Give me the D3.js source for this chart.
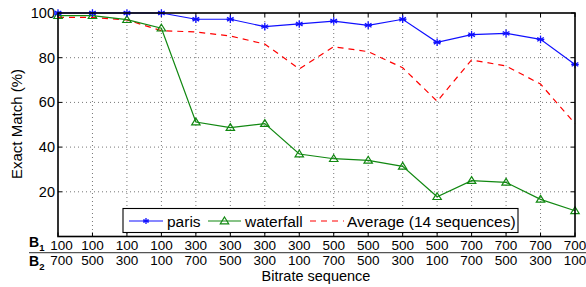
<!DOCTYPE html>
<html><head><meta charset="utf-8">
<script src="https://cdn.jsdelivr.net/npm/d3@7"></script>
<style>body{margin:0;background:#fff}svg{display:block;font-family:"Liberation Sans",Arial,sans-serif}</style>
</head><body><svg id="c" width="586" height="287"></svg>
<script>
const b1 = ["100","100","100","100","300","300","300","300","500","500","500","500","700","700","700","700"];
const b2 = ["700","500","300","100","700","500","300","100","700","500","300","100","700","500","300","100"];
const paris = [100,100,100,100,97.2,97.2,93.9,95.1,96.4,94.5,97.2,86.9,90.3,90.9,88.2,77.0];
const waterfall = [98.8,98.8,97.0,93.2,51.2,48.7,50.5,36.9,34.8,34.1,31.4,17.8,25.0,24.2,16.6,11.5];
const average = [98.0,98.0,96.9,92.1,91.5,89.7,86.1,75.0,84.9,82.7,75.5,60.5,79.0,76.3,68.2,50.5];
const yTicks = [20,40,60,80,100];

const svg = d3.select("#c");
const L=58,R=575,T=13,B=236.5;
const idx = d3.range(b1.length);
const x = d3.scaleLinear().domain([0,15]).range([L,R]);
const y = d3.scaleLinear().domain([0,100]).range([B,T]);

// grid
const g = svg.append("g");
g.selectAll(".vg").data(idx.slice(1,-1)).join("line")
 .attr("x1",d=>x(d)).attr("x2",d=>x(d)).attr("y1",T).attr("y2",B)
 .attr("stroke","#777").attr("stroke-width",1).attr("stroke-dasharray","1,3");
g.selectAll(".hg").data(yTicks.slice(0,-1)).join("line")
 .attr("x1",L).attr("x2",R).attr("y1",d=>y(d)).attr("y2",d=>y(d))
 .attr("stroke","#777").attr("stroke-width",1).attr("stroke-dasharray","1,3");

// ticks inward
const tk=4;
idx.forEach(i=>{
  svg.append("line").attr("x1",x(i)).attr("x2",x(i)).attr("y1",B).attr("y2",B-tk).attr("stroke","#000");
  svg.append("line").attr("x1",x(i)).attr("x2",x(i)).attr("y1",T).attr("y2",T+tk).attr("stroke","#000");
});
yTicks.forEach(v=>{
  svg.append("line").attr("x1",L).attr("x2",L+tk).attr("y1",y(v)).attr("y2",y(v)).attr("stroke","#000");
  svg.append("line").attr("x1",R).attr("x2",R-tk).attr("y1",y(v)).attr("y2",y(v)).attr("stroke","#000");
});

// y tick labels
svg.selectAll(".yl").data(yTicks).join("text")
 .attr("x",L-3).attr("y",d=>y(d)+5).attr("text-anchor","end")
 .attr("font-size","14.5px").text(d=>d);

// lines
const line = d3.line().x((d,i)=>x(i)).y(d=>y(d));
svg.append("path").datum(average).attr("d",line).attr("fill","none")
 .attr("stroke","#ff0000").attr("stroke-width",1.2).attr("stroke-dasharray","6,5");
svg.append("path").datum(waterfall).attr("d",line).attr("fill","none")
 .attr("stroke","#118811").attr("stroke-width",1.2);
svg.append("path").datum(paris).attr("d",line).attr("fill","none")
 .attr("stroke","#1010ff").attr("stroke-width",1.2);

function star(sel,cx,cy,r){
  [0,60,120].forEach(a=>{
    const rad=a*Math.PI/180;
    sel.append("line").attr("x1",cx-r*Math.sin(rad)).attr("y1",cy-r*Math.cos(rad))
      .attr("x2",cx+r*Math.sin(rad)).attr("y2",cy+r*Math.cos(rad))
      .attr("stroke","#1010ff").attr("stroke-width",1.3);
  });
  sel.append("line").attr("x1",cx-r).attr("x2",cx+r).attr("y1",cy).attr("y2",cy).attr("stroke","#1010ff").attr("stroke-width",1.3);
}
function tri(sel,cx,cy,s){
  sel.append("path").attr("d",`M${cx},${cy-s}L${cx+s*1.05},${cy+s*0.7}L${cx-s*1.05},${cy+s*0.7}Z`)
   .attr("fill","none").attr("stroke","#118811").attr("stroke-width",1.2);
}
waterfall.forEach((v,i)=>tri(svg,x(i),y(v),4));
paris.forEach((v,i)=>star(svg,x(i),y(v),3.8));

// frame
svg.append("rect").attr("x",L).attr("y",T).attr("width",R-L).attr("height",B-T)
 .attr("fill","none").attr("stroke","#000").attr("stroke-width",1.6);

// legend
const lg = svg.append("g");
lg.append("rect").attr("x",123).attr("y",208.5).attr("width",395).attr("height",24)
 .attr("fill","#fff").attr("stroke","#000").attr("stroke-width",1.1);
const ly=221;
lg.append("line").attr("x1",129).attr("x2",163).attr("y1",ly).attr("y2",ly).attr("stroke","#1010ff").attr("stroke-width",1.2);
star(lg,146,ly,3);
lg.append("text").attr("x",167).attr("y",ly+5.5).attr("font-size","15.5px").text("paris");
lg.append("line").attr("x1",208).attr("x2",241).attr("y1",ly).attr("y2",ly).attr("stroke","#118811").attr("stroke-width",1.2);
tri(lg,224.5,ly,4);
lg.append("text").attr("x",245).attr("y",ly+5.5).attr("font-size","15.5px").text("waterfall");
lg.append("line").attr("x1",310).attr("x2",344).attr("y1",ly).attr("y2",ly).attr("stroke","#ff0000").attr("stroke-width",1.2).attr("stroke-dasharray","6,5");
lg.append("text").attr("x",347).attr("y",ly+5.5).attr("font-size","15.5px").text("Average (14 sequences)");

// x labels (first column nudged right to clear the B labels)
const lx = i => x(i) + (i===0 ? 3.5 : 0);
svg.selectAll(".b1").data(b1).join("text").attr("x",(d,i)=>lx(i)).attr("y",250)
 .attr("text-anchor","middle").attr("font-size","13.5px").text(d=>d);
svg.selectAll(".b2").data(b2).join("text").attr("x",(d,i)=>lx(i)).attr("y",264.5)
 .attr("text-anchor","middle").attr("font-size","13.5px").text(d=>d);
svg.append("line").attr("x1",29).attr("x2",586).attr("y1",252.7).attr("y2",252.7).attr("stroke","#555").attr("stroke-width",1.2);
const bl1=svg.append("text").attr("x",29).attr("y",246.5).attr("font-size","14px").attr("font-weight","bold");
bl1.append("tspan").text("B");
bl1.append("tspan").attr("font-size","9.5px").attr("dy",4.5).text("1");
const bl2=svg.append("text").attr("x",29).attr("y",265.5).attr("font-size","14px").attr("font-weight","bold");
bl2.append("tspan").text("B");
bl2.append("tspan").attr("font-size","9.5px").attr("dy",4.5).text("2");

svg.append("text").attr("x",316).attr("y",280.5).attr("text-anchor","middle").attr("font-size","14.5px").text("Bitrate sequence");
svg.append("text").attr("transform","translate(22,124) rotate(-90)").attr("text-anchor","middle").attr("font-size","15px").text("Exact Match (%)");
</script></body></html>
